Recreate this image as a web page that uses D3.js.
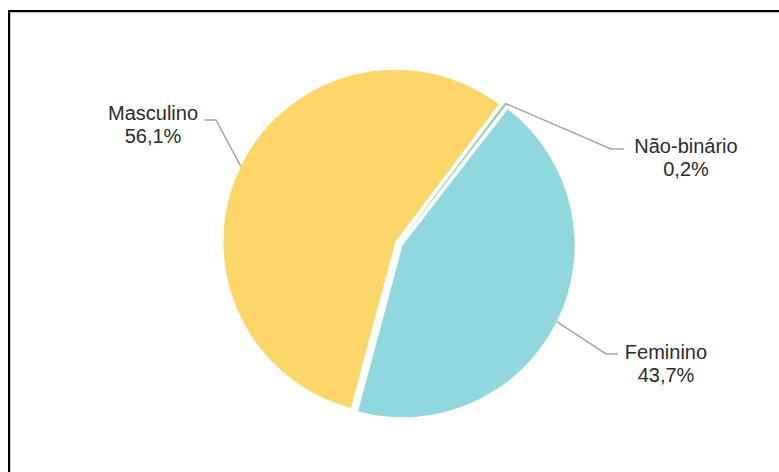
<!DOCTYPE html>
<html>
<head>
<meta charset="utf-8">
<script src="https://cdn.jsdelivr.net/npm/d3@7/dist/d3.min.js"></script>
<style>
  html, body { margin: 0; padding: 0; background: #fff; }
  svg { display: block; }
</style>
</head>
<body>
<svg id="chart" width="779" height="472"></svg>
<script>
// Data
const categories = ["Masculino", "Não-binário", "Feminino"];
const values = [56.1, 0.2, 43.7];
const valueLabels = ["56,1%", "0,2%", "43,7%"];
const colors = ["#FDD66A", "#7FD39A", "#91D7DE"];

// Layout
const W = 779, H = 472;
const cx = 399, cy = 243.5, R = 172, explode = 4;
const startDeg = 195;
// label layout: elbow point, end point, text center x, first baseline y
const labelLayout = [
  { elbow: [216, 120], end: [204, 120], tx: 153, ty: 120 },
  { elbow: [611, 149], end: [624, 149], tx: 686, ty: 153 },
  { elbow: [606, 354], end: [618, 354], tx: 666, ty: 359 }
];

const svg = d3.select("#chart");

// frame
svg.append("path")
  .attr("d", `M10,${H + 5} L10,12 L${W + 5},12`)
  .attr("fill", "none").attr("stroke", "#999").attr("stroke-width", 1);
svg.append("path")
  .attr("d", `M9,${H + 5} L9,11 L${W + 5},11`)
  .attr("fill", "none").attr("stroke", "#000").attr("stroke-width", 2);

const data = categories.map((c, i) => ({ name: c, value: values[i], label: valueLabels[i], color: colors[i] }));

const start = startDeg * Math.PI / 180;
const pie = d3.pie().sort(null).value(d => d.value)
  .startAngle(start).endAngle(start + 2 * Math.PI);
const arcs = pie(data);
const arc = d3.arc().innerRadius(0).outerRadius(R);

const g = svg.append("g").attr("transform", `translate(${cx},${cy})`);

function offset(d) {
  const a = (d.startAngle + d.endAngle) / 2;
  return [Math.sin(a) * explode, -Math.cos(a) * explode];
}

g.selectAll("path.slice").data(arcs).enter().append("path")
  .attr("class", "slice")
  .attr("d", arc)
  .attr("fill", d => d.data.color)
  .attr("transform", d => { const o = offset(d); return `translate(${o[0]},${o[1]})`; });

// leader lines + labels
arcs.forEach((d, i) => {
  const a = (d.startAngle + d.endAngle) / 2;
  const o = offset(d);
  const sx = cx + o[0] + Math.sin(a) * R;
  const sy = cy + o[1] - Math.cos(a) * R;
  const L = labelLayout[i];
  svg.append("path")
    .attr("d", d3.line()([[sx, sy], L.elbow, L.end]))
    .attr("fill", "none").attr("stroke", "#A6A6A6").attr("stroke-width", 1.5);
  const t = svg.append("text")
    .attr("x", L.tx).attr("y", L.ty)
    .attr("text-anchor", "middle")
    .attr("font-family", "Liberation Sans, Arial, sans-serif")
    .attr("font-size", "20px")
    .attr("fill", "#2b2b2b");
  t.append("tspan").attr("x", L.tx).text(d.data.name);
  t.append("tspan").attr("x", L.tx).attr("dy", 23).text(d.data.label);
});
</script>
</body>
</html>
